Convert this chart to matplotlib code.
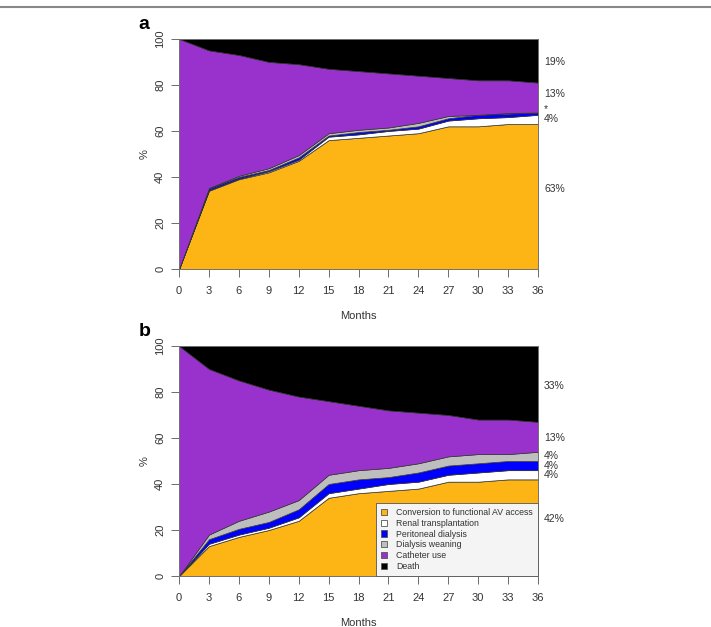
import numpy as np
import matplotlib.pyplot as plt
from matplotlib.lines import Line2D
from matplotlib.patches import Patch

plt.rcParams['font.family'] = ['Liberation Sans', 'DejaVu Sans']

# Mesi
months = [0, 3, 6, 9, 12, 15, 18, 21, 24, 27, 30, 33, 36]

# Pannello a: valori cumulati (bordo superiore di ogni strato, %)
a_conv = [0, 34, 39, 42, 47, 56, 57, 58, 59, 62, 62, 63, 63]
a_renal = [0, 34.3, 39.3, 42.5, 47.5, 57.5, 58.5, 60, 61, 64.5, 65.5, 66, 67]
a_perit = [0, 35, 40, 43, 48.5, 58, 59.5, 60.5, 62, 65.5, 67, 67.5, 68]
a_wean = [0, 35.2, 40.5, 43.8, 49.5, 59, 60.5, 61.5, 63.5, 66.5, 67, 67.8, 68]
a_cath = [100, 95, 93, 90, 89, 87, 86, 85, 84, 83, 82, 82, 81]

# Pannello b
b_conv = [0, 13, 17, 20, 24, 34, 36, 37, 38, 41, 41, 42, 42]
b_renal = [0, 14, 18, 21, 25.5, 36, 38, 40, 41, 44, 45, 46, 46]
b_perit = [0, 16, 20.5, 23.5, 29, 40, 42, 43, 45, 48, 49, 50, 50]
b_wean = [0, 18, 24, 28, 33, 44, 46, 47, 49, 52, 53, 53, 54]
b_cath = [100, 90, 85, 81, 78, 76, 74, 72, 71, 70, 68, 68, 67]

a_labels = ['19%', '13%', '*', '4%', '63%']
a_label_y = [90, 76, 69.5, 65, 34.8]
b_labels = ['33%', '13%', '4%', '4%', '4%', '42%']
b_label_y = [82.5, 60, 52, 48, 44, 24.6]

names = ['Conversion to functional AV access', 'Renal transplantation',
         'Peritoneal dialysis', 'Dialysis weaning', 'Catheter use', 'Death']
colors = ['#FDB515', '#FFFFFF', '#0000FF', '#BEBEBE', '#9932CC', '#000000']


def draw_panel(ax, layers, labels, label_y, letter):
    x = np.array(months)
    lower = np.zeros(len(x))
    tops = layers + [np.full(len(x), 100.0)]
    for top, c in zip(tops, colors):
        top = np.array(top, dtype=float)
        ax.fill_between(x, lower, top, facecolor=c, edgecolor='#333333', linewidth=0.5)
        lower = top
    ax.set_xlim(0, 36)
    ax.set_ylim(0, 100)
    ax.set_xticks(months)
    ax.set_yticks([0, 20, 40, 60, 80, 100])
    ax.tick_params(axis='both', labelsize=8, length=6, width=0.6, color='#555555',
                   labelcolor='#333333')
    ax.tick_params(axis='x', pad=6)
    ax.tick_params(axis='y', pad=4)
    for lab in ax.get_yticklabels():
        lab.set_rotation(90)
        lab.set_va('center')
    for s in ax.spines.values():
        s.set_linewidth(0.6)
        s.set_color('#777777')
    ax.set_xlabel('Months', fontsize=8, labelpad=11, color='#333333')
    ax.set_ylabel('%', fontsize=8, labelpad=4, color='#333333')
    for t, yy in zip(labels, label_y):
        ax.text(36.6, yy, t, fontsize=7.5, va='center', ha='left', color='#333333')
    ax.text(-0.112, 1.025, letter, transform=ax.transAxes, fontsize=14,
            fontweight='bold', ha='left', va='bottom')


fig = plt.figure(figsize=(7.11, 6.27), dpi=100)
fig.add_artist(Line2D([0, 1], [1 - 6.5 / 627, 1 - 6.5 / 627], color='#888888', linewidth=1.5))

ax1 = fig.add_axes([0.2518, 0.571, 0.505, 0.367])
draw_panel(ax1, [a_conv, a_renal, a_perit, a_wean, a_cath], a_labels, a_label_y, 'a')

ax2 = fig.add_axes([0.2518, 0.0813, 0.505, 0.367])
draw_panel(ax2, [b_conv, b_renal, b_perit, b_wean, b_cath], b_labels, b_label_y, 'b')

handles = [Patch(facecolor=c, edgecolor='#555555', linewidth=0.6) for c in colors]
leg = ax2.legend(handles, names, loc='lower right', fontsize=6.3, frameon=True,
                 fancybox=False, handlelength=0.75, handleheight=0.75, handletextpad=1.0,
                 labelspacing=0.2, borderpad=0.6, borderaxespad=0, framealpha=1)
for t in leg.get_texts():
    t.set_color('#333333')
leg.get_frame().set_facecolor('#F4F4F4')
leg.get_frame().set_edgecolor('#555555')
leg.get_frame().set_linewidth(0.6)

fig.savefig('out.png', dpi=100)
